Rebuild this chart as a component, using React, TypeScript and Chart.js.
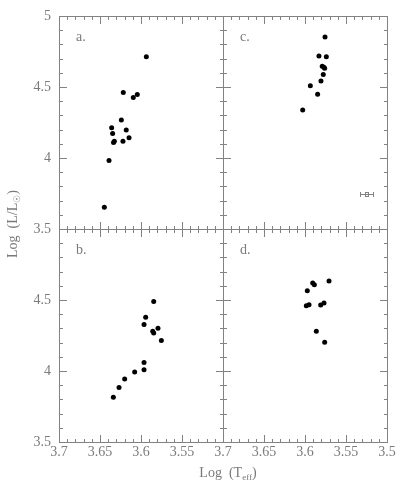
import React, { useEffect, useRef } from 'react';
import { Chart, registerables } from 'chart.js';

Chart.register(...registerables);

// Panel a
const aTeff = [3.5935, 3.6216, 3.6094, 3.6045, 3.624, 3.6358, 3.6346, 3.618, 3.6325, 3.6335, 3.622, 3.6146, 3.639, 3.6447];
const aLum = [4.715, 4.463, 4.428, 4.449, 4.269, 4.215, 4.174, 4.199, 4.12, 4.111, 4.12, 4.144, 3.984, 3.655];
// Panel b
const bTeff = [3.5845, 3.5943, 3.5963, 3.5857, 3.5845, 3.5793, 3.5752, 3.5963, 3.5963, 3.6077, 3.6199, 3.6268, 3.6337];
const bLum = [4.491, 4.38, 4.329, 4.28, 4.269, 4.301, 4.215, 4.06, 4.009, 3.993, 3.944, 3.884, 3.815];
// Panel c
const cTeff = [3.5756, 3.583, 3.574, 3.579, 3.576, 3.577, 3.5777, 3.5805, 3.5935, 3.5846, 3.6028];
const cLum = [4.854, 4.72, 4.715, 4.648, 4.634, 4.641, 4.59, 4.544, 4.512, 4.451, 4.34];
// Panel d
const dTeff = [3.5707, 3.5906, 3.5886, 3.5972, 3.5984, 3.5951, 3.5809, 3.5768, 3.5862, 3.576];
const dLum = [4.634, 4.62, 4.609, 4.567, 4.46, 4.467, 4.465, 4.479, 4.28, 4.203];
// Typical error bar (panel c)
const errTeff = [3.525];
const errLum = [3.75];
const errHalfWidth = [0.0075];

// Tick labels
const xTicksLeft = [3.7, 3.65, 3.6, 3.55];
const xTicksRight = [3.7, 3.65, 3.6, 3.55, 3.5];
const yTicksTop = [5, 4.5, 4, 3.5];
const yTicksBottom = [4.5, 4, 3.5];
const panelLetters = ['a.', 'b.', 'c.', 'd.'];

const GRAY = '#828282';
const TEXT = '#7a7a7a';
const FONT = 'Liberation Serif';

const panels: [string, string][] = [
  ['xl', 'ya'],
  ['xl', 'yb'],
  ['xr', 'ya'],
  ['xr', 'yb'],
];

const toPts = (xs: number[], ys: number[]) => xs.map((x, i) => ({ x, y: ys[i] }));

const framePlugin = {
  id: 'frames',
  afterDraw(chart: any) {
    const ctx = chart.ctx as CanvasRenderingContext2D;
    ctx.save();
    ctx.fillStyle = GRAY;
    for (const [xid, yid] of panels) {
      const xs = chart.scales[xid];
      const ys = chart.scales[yid];
      const l = Math.round(xs.left);
      const r = Math.round(xs.right);
      const t = Math.round(ys.top);
      const b = Math.round(ys.bottom);
      // frame
      ctx.fillRect(l, t, r - l + 1, 1);
      ctx.fillRect(l, b, r - l + 1, 1);
      ctx.fillRect(l, t, 1, b - t + 1);
      ctx.fillRect(r, t, 1, b - t + 1);
      // x ticks: minor every 0.01, major every 0.05
      for (let i = 0; i <= 20; i++) {
        const px = Math.round(l + (i / 20) * (r - l));
        const len = i % 5 === 0 ? 8 : 4;
        ctx.fillRect(px, b - len + 1, 1, len);
        ctx.fillRect(px, t, 1, len);
      }
      // y ticks: minor every 0.1, major every 0.5
      for (let i = 0; i <= 15; i++) {
        const py = Math.round(b - (i / 15) * (b - t));
        const len = i % 5 === 0 ? 8 : 4;
        ctx.fillRect(l, py, len, 1);
        ctx.fillRect(r - len + 1, py, len, 1);
      }
    }
    ctx.fillStyle = TEXT;
    ctx.textBaseline = 'alphabetic';
    ctx.font = `14px "${FONT}"`;
    // panel letters
    panels.forEach(([xid, yid], i) => {
      const xs = chart.scales[xid];
      const ys = chart.scales[yid];
      ctx.textAlign = 'left';
      ctx.fillText(panelLetters[i], xs.left + 17, ys.top + 25);
    });
    const big = `14px "${FONT}"`;
    const small = `9px "${FONT}"`;
    const drawSub = (parts: [string, boolean][], x0: number, y0: number) => {
      let w = 0;
      for (const [s, sub] of parts) {
        ctx.font = sub ? small : big;
        w += ctx.measureText(s).width;
      }
      let x = x0 - w / 2;
      ctx.textAlign = 'left';
      for (const [s, sub] of parts) {
        ctx.font = sub ? small : big;
        ctx.fillText(s, x, sub ? y0 + 3 : y0);
        x += ctx.measureText(s).width;
      }
    };
    // x title: Log (T_eff)
    drawSub([['Log  (T', false], ['eff', true], [')', false]], 228, 477);
    // y title: Log (L/L_sun)
    ctx.save();
    ctx.translate(17, 224);
    ctx.rotate(-Math.PI / 2);
    drawSub([['Log  (L/L', false], ['\u2609', true], [')', false]], 0, 0);
    ctx.restore();
    // error bar
    const xs = chart.scales['xr'];
    const ys = chart.scales['ya'];
    ctx.fillStyle = GRAY;
    for (let i = 0; i < errTeff.length; i++) {
      const xa = Math.round(xs.getPixelForValue(errTeff[i] + errHalfWidth[i]));
      const xb = Math.round(xs.getPixelForValue(errTeff[i] - errHalfWidth[i]));
      const x1 = Math.min(xa, xb);
      const x2 = Math.max(xa, xb);
      const xc = Math.round(xs.getPixelForValue(errTeff[i]));
      const yc = Math.round(ys.getPixelForValue(errLum[i]));
      ctx.fillRect(x1, yc, x2 - x1 + 1, 1);
      ctx.fillRect(x1, yc - 2, 1, 5);
      ctx.fillRect(x2, yc - 2, 1, 5);
      ctx.fillRect(xc - 2, yc - 2, 4, 1);
      ctx.fillRect(xc - 2, yc + 2, 4, 1);
      ctx.fillRect(xc - 2, yc - 2, 1, 5);
      ctx.fillRect(xc + 1, yc - 2, 1, 5);
    }
    ctx.restore();
  },
};

const fmt = (v: any) => String(Number(Number(v).toFixed(2)));

const yScale = (ticks: number[]) => ({
  axis: 'y',
  type: 'linear',
  position: 'left',
  stack: 'v',
  stackWeight: 1,
  min: 3.5,
  max: 5,
  grid: { display: false, drawTicks: false },
  border: { display: false },
  ticks: { font: { family: FONT, size: 14 }, color: TEXT, padding: 8, callback: fmt },
  afterBuildTicks: (s: any) => { s.ticks = ticks.map((v) => ({ value: v })); },
  afterFit: (s: any) => { s.width = 59; },
});

const xScale = (ticks: number[]) => ({
  axis: 'x',
  type: 'linear',
  position: 'bottom',
  stack: 'h',
  stackWeight: 1,
  min: 3.5,
  max: 3.7,
  reverse: true,
  grid: { display: false, drawTicks: false },
  border: { display: false },
  ticks: { font: { family: FONT, size: 14 }, color: TEXT, padding: 2, maxRotation: 0, autoSkip: false, callback: fmt },
  afterBuildTicks: (s: any) => { s.ticks = ticks.map((v) => ({ value: v })); },
  afterFit: (s: any) => { s.height = 43; },
});

export default function App() {
  const ref = useRef<HTMLCanvasElement | null>(null);
  useEffect(() => {
    if (!ref.current) return;
    const ds = (pts: any, xid: string, yid: string) => ({
      data: pts,
      xAxisID: xid,
      yAxisID: yid,
      pointRadius: 2.5,
      pointBackgroundColor: '#000',
      pointBorderWidth: 0,
      showLine: false,
    });
    const chart = new Chart(ref.current, {
      type: 'scatter',
      data: {
        datasets: [
          ds(toPts(aTeff, aLum), 'xl', 'ya'),
          ds(toPts(bTeff, bLum), 'xl', 'yb'),
          ds(toPts(cTeff, cLum), 'xr', 'ya'),
          ds(toPts(dTeff, dLum), 'xr', 'yb'),
        ],
      },
      options: {
        responsive: false,
        animation: false,
        devicePixelRatio: 1,
        layout: { padding: { top: 10, right: 13, left: 0, bottom: 0 } },
        plugins: { legend: { display: false }, tooltip: { enabled: false } },
        scales: {
          yb: yScale(yTicksBottom),
          ya: yScale(yTicksTop),
          xl: xScale(xTicksLeft),
          xr: xScale(xTicksRight),
        } as any,
      },
      plugins: [framePlugin],
    } as any);
    return () => chart.destroy();
  }, []);
  return (
    <div style={{ position: 'absolute', left: 0, top: 0, width: 400, height: 485, background: '#fff' }}>
      <canvas ref={ref} width={400} height={485} />
    </div>
  );
}
